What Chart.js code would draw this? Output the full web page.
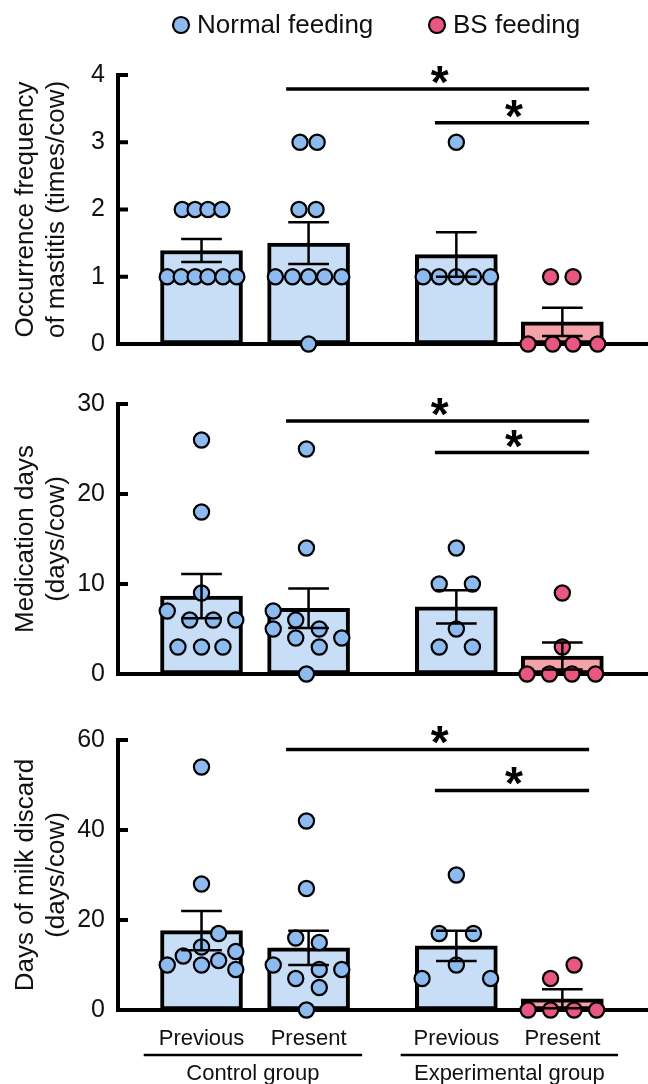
<!DOCTYPE html>
<html>
<head>
<meta charset="utf-8">
<script src="https://cdn.jsdelivr.net/npm/chart.js@4.4.1/dist/chart.umd.min.js"></script>
<style>
  html, body { margin: 0; padding: 0; background: #fff; }
  #wrap { position: relative; width: 648px; height: 1084px; }
  .panel { position: absolute; left: 0; width: 648px; }
</style>
</head>
<body>
<div id="wrap">
  <div class="panel" style="top:0;height:362px"><canvas id="c1"></canvas></div>
  <div class="panel" style="top:362px;height:330px"><canvas id="c2"></canvas></div>
  <div class="panel" style="top:692px;height:392px"><canvas id="c3"></canvas></div>
</div>
<script>
const categories = ["Previous", "Present", "Previous", "Present"];
const groupNames = ["Control group", "Experimental group"];
const seriesNames = ["Normal feeding", "BS feeding"];
const positions = [1, 2, 3.38, 4.37];
const groupSpans = [[0.46, 2.5], [2.86, 4.89]];

// occurrence frequency of mastitis
const mastitisMean = [1.39, 1.5, 1.33, 0.33];
const mastitisSem = [0.17, 0.31, 0.33, 0.21];
const mastitisDots = [
  [2, 2, 2, 2, 1, 1, 1, 1, 1, 1],
  [3, 3, 2, 2, 1, 1, 1, 1, 1, 0],
  [3, 1, 1, 1, 1, 1],
  [1, 1, 0, 0, 0, 0]
];
const mastitisJitter = [
  [-0.18, -0.06, 0.06, 0.19, -0.32, -0.19, -0.06, 0.06, 0.2, 0.33],
  [-0.08, 0.08, -0.09, 0.07, -0.31, -0.15, 0, 0.15, 0.31, 0],
  [0, -0.31, -0.16, 0, 0.16, 0.32],
  [-0.11, 0.1, -0.32, -0.09, 0.1, 0.33]
];
const mastitisSig = [3.79, 3.29];

// medication days
const medMean = [8.65, 7.3, 7.45, 2.0];
const medSem = [2.45, 2.2, 1.85, 1.5];
const medDots = [
  [26, 18, 9, 7, 6, 6, 6, 3, 3, 3],
  [25, 14, 7, 6, 5, 5, 4, 4, 3, 0],
  [14, 10, 10, 5, 3, 3],
  [9, 3, 0, 0, 0, 0]
];
const medJitter = [
  [0, 0, 0, -0.32, -0.11, 0.11, 0.32, -0.22, 0, 0.2],
  [-0.02, -0.02, -0.33, -0.12, -0.33, 0.1, -0.12, 0.31, 0.1, -0.02],
  [0, -0.16, 0.15, 0, -0.16, 0.15],
  [0, 0, -0.33, -0.12, 0.09, 0.31]
];
const medSig = [28.1, 24.6];

// days of milk discard
const milkMean = [17.65, 13.8, 14.25, 2.5];
const milkSem = [4.35, 3.8, 3.35, 2.1];
const milkDots = [
  [54, 28, 17, 14, 13, 12, 11, 10, 10, 9],
  [42, 27, 16, 15, 10, 9, 9, 7, 5, 0],
  [30, 17, 17, 10, 7, 7],
  [10, 7, 0, 0, 0, 0]
];
const milkJitter = [
  [0, 0, 0.16, 0, 0.32, -0.17, 0.16, -0.32, 0, 0.32],
  [-0.02, -0.02, -0.12, 0.1, -0.33, 0.1, 0.31, -0.12, 0.1, -0.02],
  [0, -0.16, 0.16, 0, -0.32, 0.32],
  [0.11, -0.11, -0.32, -0.11, 0.11, 0.32]
];
const milkSig = [57.9, 48.8];

const sigFrom = [1.79, 3.18];
const sigTo = 4.62;

const FONT = '"Liberation Sans", Arial, sans-serif';
const barFill = ['#c8def7', '#c8def7', '#c8def7', '#f5a2a8'];
const dotFill = ['#8dbbef', '#8dbbef', '#8dbbef', '#e8577f'];

function line(ctx, x1, y1, x2, y2){
    ctx.beginPath();
    ctx.moveTo(x1, y1);
    ctx.lineTo(x2, y2);
    ctx.stroke();
}

// ticks pointing inwards, error bars, significance bars
const extras = {
    id: 'extras',
    afterDatasetsDraw(chart, args, opts){
        const {ctx} = chart;
        const x = chart.scales.x, y = chart.scales.y;
        ctx.save();
        ctx.strokeStyle = '#000';
        ctx.fillStyle = '#000';

        ctx.lineWidth = 4;
        y.ticks.forEach(t => {
            if(t.value === 0) return;
            const py = y.getPixelForValue(t.value);
            line(ctx, x.left - 2, py, x.left + 10, py);
        });

        ctx.lineWidth = 2.5;
        opts.mean.forEach((m, i) => {
            const px = x.getPixelForValue(positions[i]);
            const hw = x.getPixelForValue(positions[i] + 0.19) - px;
            const yt = y.getPixelForValue(m + opts.sem[i]);
            const yb = y.getPixelForValue(Math.max(0, m - opts.sem[i]));
            line(ctx, px, yt, px, yb);
            line(ctx, px - hw, yt, px + hw, yt);
            line(ctx, px - hw, yb, px + hw, yb);
        });

        ctx.font = 'bold 46px ' + FONT;
        ctx.textAlign = 'center';
        ctx.textBaseline = 'alphabetic';
        opts.sig.forEach((v, i) => {
            const py = y.getPixelForValue(v);
            const x1 = x.getPixelForValue(sigFrom[i]);
            const x2 = x.getPixelForValue(sigTo);
            ctx.lineWidth = 3.5;
            line(ctx, x1, py, x2, py);
            ctx.fillText('*', (x1 + x2) / 2 + 2, py + 9);
        });
        ctx.restore();
    }
};

const legendDraw = {
    id: 'legendDraw',
    afterDraw(chart, args, opts){
        if(!opts.show) return;
        const ctx = chart.ctx;
        const items = [[181, seriesNames[0], dotFill[0]], [437, seriesNames[1], dotFill[3]]];
        ctx.save();
        ctx.font = '26px ' + FONT;
        ctx.textAlign = 'left';
        ctx.textBaseline = 'middle';
        items.forEach(([cx, text, color]) => {
            ctx.beginPath();
            ctx.arc(cx, 25, 8, 0, Math.PI * 2);
            ctx.fillStyle = color;
            ctx.fill();
            ctx.lineWidth = 2.2;
            ctx.strokeStyle = '#000';
            ctx.stroke();
            ctx.fillStyle = '#111';
            ctx.fillText(text, cx + 16, 26);
        });
        ctx.restore();
    }
};

const groupDraw = {
    id: 'groupDraw',
    afterDraw(chart, args, opts){
        if(!opts.show) return;
        const ctx = chart.ctx;
        const x = chart.scales.x;
        ctx.save();
        ctx.strokeStyle = '#000';
        ctx.lineWidth = 2.5;
        ctx.fillStyle = '#111';
        ctx.font = '22px ' + FONT;
        ctx.textAlign = 'center';
        ctx.textBaseline = 'alphabetic';
        groupSpans.forEach((span, i) => {
            const x1 = x.getPixelForValue(span[0]);
            const x2 = x.getPixelForValue(span[1]);
            line(ctx, x1, x.top + 45, x2, x.top + 45);
            ctx.fillText(groupNames[i], (x1 + x2) / 2, x.top + 70);
        });
        ctx.restore();
    }
};

function makePanel(id, p){
    const dotSets = p.dots.map((vals, g) => ({
        type: 'scatter',
        data: vals.map((v, k) => ({x: positions[g] + p.jitter[g][k], y: v})),
        pointRadius: 7.6,
        pointBorderWidth: 2.2,
        pointBackgroundColor: dotFill[g],
        pointBorderColor: '#000',
        clip: false,
        order: 1
    }));

    new Chart(document.getElementById(id), {
        type: 'bar',
        data: {
            datasets: [{
                type: 'bar',
                data: positions.map((px, i) => ({x: px, y: p.mean[i]})),
                backgroundColor: barFill,
                borderColor: '#000',
                borderWidth: 4,
                borderSkipped: false,
                barThickness: 82,
                clip: false,
                order: 2
            }, ...dotSets]
        },
        options: {
            responsive: true,
            maintainAspectRatio: false,
            animation: false,
            events: [],
            layout: { padding: p.padding, autoPadding: false },
            plugins: {
                legend: { display: false },
                tooltip: { enabled: false },
                extras: { mean: p.mean, sem: p.sem, sig: p.sig },
                legendDraw: { show: !!p.legend },
                groupDraw: { show: !!p.labels }
            },
            scales: {
                x: {
                    type: 'linear',
                    offset: false,
                    min: 0.22,
                    max: 5.17,
                    grid: { display: false, drawTicks: false },
                    border: { display: true, color: '#000', width: 4 },
                    afterBuildTicks: s => { s.ticks = positions.map(v => ({value: v})); },
                    afterFit: s => { s.height = p.labels ? 74 : 0; },
                    ticks: {
                        display: !!p.labels,
                        autoSkip: false,
                        maxRotation: 0,
                        padding: 16,
                        color: '#111',
                        font: { family: FONT, size: 22 },
                        callback: (v, i) => categories[i]
                    }
                },
                y: {
                    min: 0,
                    max: p.max,
                    grid: { display: false, drawTicks: false },
                    border: { display: true, color: '#000', width: 4 },
                    afterFit: s => {
                        s.width = 118;
                        s.paddingTop = 0;
                        s.paddingBottom = 0;
                    },
                    ticks: {
                        stepSize: p.step,
                        padding: 13,
                        color: '#111',
                        font: { family: FONT, size: 25 }
                    },
                    title: {
                        display: true,
                        text: p.title,
                        color: '#111',
                        font: { family: FONT, size: 26, lineHeight: 1.2 },
                        padding: { top: 10, bottom: 0 }
                    }
                }
            }
        },
        plugins: [extras, legendDraw, groupDraw]
    });
}

makePanel('c1', {
    mean: mastitisMean, sem: mastitisSem, dots: mastitisDots, jitter: mastitisJitter, sig: mastitisSig,
    max: 4, step: 1, title: ["Occurrence frequency", "of mastitis (times/cow)"],
    padding: { top: 75, bottom: 18, left: 0, right: 0 }, legend: true
});
makePanel('c2', {
    mean: medMean, sem: medSem, dots: medDots, jitter: medJitter, sig: medSig,
    max: 30, step: 10, title: ["Medication days", "(days/cow)"],
    padding: { top: 42, bottom: 18, left: 0, right: 0 }
});
makePanel('c3', {
    mean: milkMean, sem: milkSem, dots: milkDots, jitter: milkJitter, sig: milkSig,
    max: 60, step: 20, title: ["Days of milk discard", "(days/cow)"],
    padding: { top: 48, bottom: 0, left: 0, right: 0 }, labels: true
});
</script>
</body>
</html>
